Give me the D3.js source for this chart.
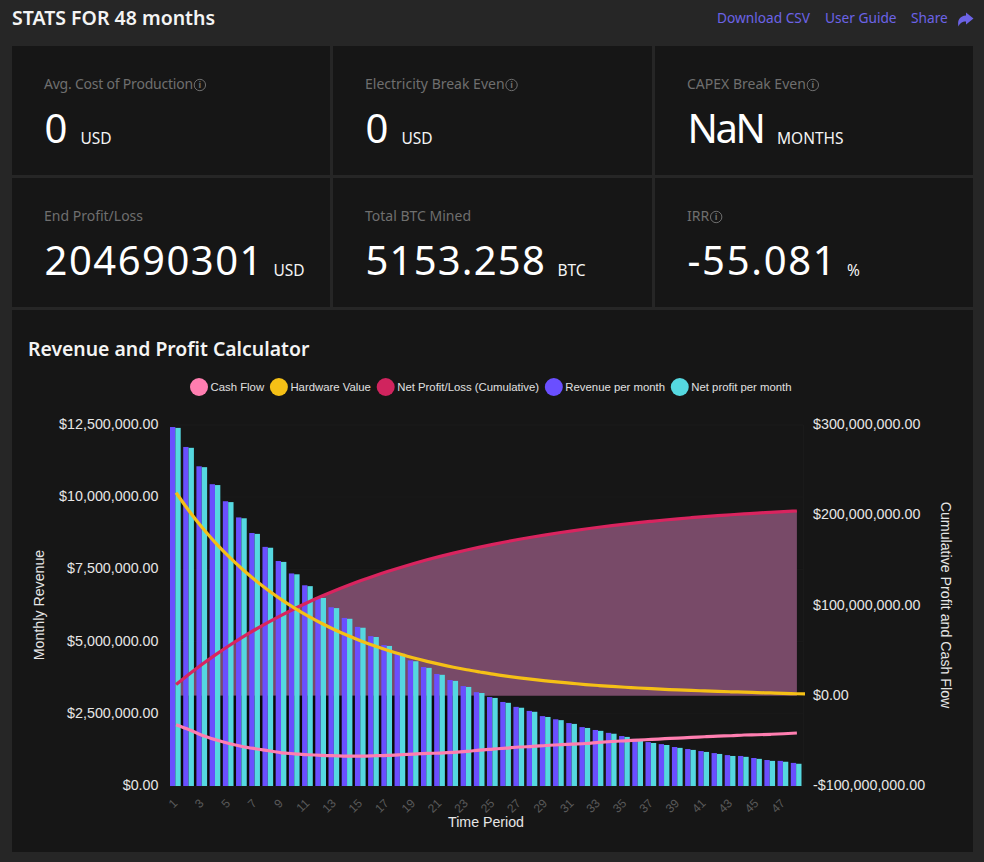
<!DOCTYPE html>
<html>
<head>
<meta charset="utf-8">
<script src="https://cdnjs.cloudflare.com/ajax/libs/d3/7.8.5/d3.min.js"></script>
<style>
  html, body { margin: 0; padding: 0; background: #262626; }
  svg { display: block; }
  text { font-family: "Noto Sans", sans-serif; }
  .chart-text text, text.chart-text { font-family: "Liberation Sans", Arial, sans-serif; }
  .domain, .tick line { display: none; }
</style>
</head>
<body>
<div id="page"></div>
<script>
// Stat cards
var cardLabels = ["Avg. Cost of Production", "Electricity Break Even", "CAPEX Break Even", "End Profit/Loss", "Total BTC Mined", "IRR"];
var cardValues = ["0", "0", "NaN", "204690301", "5153.258", "-55.081"];
var cardUnits = ["USD", "USD", "MONTHS", "USD", "BTC", "%"];
var cardInfo = [true, true, true, false, false, true];

var headerLinks = ["Download CSV", "User Guide", "Share"];

// Chart data. Dollars in millions.
var months = d3.range(1, 49).map(String);
var revenue = [12.43, 11.74, 11.07, 10.45, 9.86, 9.30, 8.76, 8.28, 7.79, 7.36, 6.95, 6.54, 6.19, 5.82, 5.51, 5.19,
  4.88, 4.61, 4.35, 4.12, 3.88, 3.67, 3.46, 3.25, 3.08, 2.91, 2.74, 2.60, 2.42, 2.31, 2.18, 2.04,
  1.94, 1.84, 1.73, 1.63, 1.52, 1.45, 1.35, 1.28, 1.21, 1.14, 1.07, 1.04, 0.97, 0.90, 0.87, 0.80];
var netProfit = [12.40, 11.71, 11.04, 10.42, 9.83, 9.27, 8.73, 8.25, 7.76, 7.33, 6.92, 6.51, 6.16, 5.79, 5.48, 5.16,
  4.85, 4.58, 4.32, 4.09, 3.85, 3.64, 3.43, 3.22, 3.05, 2.88, 2.71, 2.57, 2.39, 2.28, 2.15, 2.01,
  1.91, 1.81, 1.70, 1.60, 1.49, 1.42, 1.32, 1.25, 1.18, 1.11, 1.04, 1.01, 0.94, 0.87, 0.84, 0.77];
var cumulative = [12.40, 24.11, 35.15, 45.57, 55.40, 64.67, 73.40, 81.65, 89.41, 96.74, 103.66, 110.17, 116.33, 122.12, 127.60, 132.76,
  137.61, 142.19, 146.51, 150.60, 154.45, 158.09, 161.52, 164.74, 167.79, 170.67, 173.38, 175.95, 178.34, 180.62, 182.77, 184.78,
  186.69, 188.50, 190.20, 191.80, 193.29, 194.71, 196.03, 197.28, 198.46, 199.57, 200.55, 201.50, 202.40, 203.20, 204.00, 204.69];
// one value longer than the months, the line runs off the last band
var hardware = [225.0, 204.4, 185.8, 169.2, 154.2, 140.5, 128.0, 116.6, 106.2, 96.8, 88.2, 80.3, 73.2, 66.7, 60.7, 55.3,
  50.4, 45.9, 41.8, 38.1, 34.7, 31.6, 28.8, 26.3, 23.9, 21.8, 19.9, 18.1, 16.5, 15.0, 13.7, 12.4,
  11.3, 10.3, 9.4, 8.6, 7.8, 7.1, 6.5, 5.9, 5.4, 4.9, 4.4, 4.0, 3.5, 3.1, 2.7, 2.2, 1.9];
var cashFlow = [-32.1, -37.7, -44.0, -48.8, -52.9, -56.2, -58.7, -60.9, -63.2, -64.3, -65.4, -66.1, -66.5, -66.8, -66.8, -66.5,
  -66.1, -65.4, -64.6, -63.9, -63.5, -62.8, -61.7, -60.2, -59.1, -58.0, -56.8, -56.2, -55.1, -54.3, -53.5, -52.9,
  -51.7, -50.7, -49.9, -49.1, -48.4, -47.6, -46.9, -46.2, -45.4, -44.7, -44.3, -43.5, -43.2, -42.7, -42.1, -41.3];

var leftTicks = [0, 2.5, 5, 7.5, 10, 12.5];
var rightTicks = [-100, 0, 100, 200, 300];
var legendNames = ["Cash Flow", "Hardware Value", "Net Profit/Loss (Cumulative)", "Revenue per month", "Net profit per month"];
var legendColors = ["#ff7eb0", "#f5c016", "#d0245e", "#6a4fff", "#55d8e0"];

var cardBg = "#161616", mutedText = "#6f6f6f", linkColor = "#6c63e6";

var svg = d3.select("#page").append("svg").attr("width", 984).attr("height", 862);

// Header
svg.append("text").text("STATS FOR 48 months")
  .attr("x", 12).attr("y", 25)
  .style("font-size", "19.5px").style("font-weight", 600).style("fill", "#f4f4f4");
var linkX = [717, 825, 911];
svg.selectAll(".link").data(headerLinks).enter().append("text")
  .attr("class", "link").text(function (d) { return d; })
  .attr("x", function (d, i) { return linkX[i]; }).attr("y", 23)
  .style("font-size", "13.7px").style("fill", linkColor);
svg.append("path").attr("d", "M973.5 18.5 L966 12.5 V15.5 C960 16 957 20 958.5 26.5 C960 23 962 21.5 966 21.5 V24.5 Z")
  .style("fill", linkColor);

// Cards
var cardX = [12, 333, 655], cardW = [318, 319, 318], cardY = [46, 178], cardH = 129;
// the fallback font runs wider or narrower than the original on some strings
var labelSpacing = [-0.22, 0, 0, 0, 0, 0];
var valueSpacing = [1, 1, -2.4, 1.5, 1.2, 1.7];
var unitGap = [12.5, 12.5, 14, 10, 12, 10];

var cards = svg.selectAll(".card").data(cardLabels).enter().append("g")
  .attr("class", "card")
  .attr("transform", function (d, i) { return "translate(" + cardX[i % 3] + "," + cardY[Math.floor(i / 3)] + ")"; });
cards.append("rect")
  .attr("width", function (d, i) { return cardW[i % 3]; }).attr("height", cardH)
  .style("fill", cardBg);
var labelText = cards.append("text").text(function (d) { return d; })
  .attr("x", 32).attr("y", 43)
  .style("font-size", "14px").style("fill", mutedText)
  .style("letter-spacing", function (d, i) { return labelSpacing[i] + "px"; });
var valueText = cards.append("text").text(function (d, i) { return cardValues[i]; })
  .attr("x", 32.5).attr("y", 97)
  .style("font-size", "40px").style("fill", "#fff")
  .style("letter-spacing", function (d, i) { return valueSpacing[i] + "px"; });
cards.append("text").text(function (d, i) { return cardUnits[i]; })
  .attr("x", function (d, i) { return 32 + valueText.nodes()[i].getComputedTextLength() + unitGap[i]; })
  .attr("y", 98)
  .style("font-size", "15.5px").style("fill", "#f4f4f4");
cards.each(function (d, i) {
  if (!cardInfo[i]) return;
  var ix = 32 + labelText.nodes()[i].getComputedTextLength() + 7;
  var g = d3.select(this).append("g").attr("transform", "translate(" + ix + ",39)");
  g.append("circle").attr("r", 5.7).style("fill", "none").style("stroke", mutedText);
  g.append("text").text("i").attr("text-anchor", "middle").attr("y", 3)
    .style("font-size", "9px").style("font-weight", 700).style("fill", mutedText);
});

// Chart panel
svg.append("rect").attr("x", 12).attr("y", 310).attr("width", 961).attr("height", 542).style("fill", cardBg);
svg.append("text").text("Revenue and Profit Calculator")
  .attr("x", 28).attr("y", 356)
  .style("font-size", "19.4px").style("font-weight", 600).style("fill", "#f4f4f4");

var plot = { left: 169.5, right: 803.5, top: 425, bottom: 786 };

var x0 = d3.scaleBand().domain(months).range([plot.left, plot.right]);
var x1 = d3.scaleBand().domain(["revenue", "net"]).range([0.5, 11.2]);
var yLeft = d3.scaleLinear().domain([0, 12.5]).range([plot.bottom, plot.top]);
var yRight = d3.scaleLinear().domain([-100, 300]).range([plot.bottom, plot.top]);
var lineX = function (d, i) { return x0(months[0]) + x0.bandwidth() * (i + 0.5); };

// Legend, laid out from the text widths
var legend = svg.append("g").attr("class", "chart-text").attr("transform", "translate(190,387)");
var legendX = 0;
legendNames.forEach(function (name, i) {
  var g = legend.append("g").attr("transform", "translate(" + legendX + ",0)");
  g.append("circle").attr("cx", 9).attr("r", 9).style("fill", legendColors[i]);
  var t = g.append("text").text(name).attr("x", 20.5).attr("y", 4)
    .style("font-size", "11.35px").style("fill", "#e0e0e0");
  legendX += 20.5 + t.node().getComputedTextLength() + 5.8;
});

// Faint grid
var grid = svg.append("g").style("stroke", "#1a1a1a");
grid.selectAll("line").data(leftTicks).enter().append("line")
  .attr("x1", plot.left).attr("x2", plot.right)
  .attr("y1", function (d) { return yLeft(d); }).attr("y2", function (d) { return yLeft(d); });
grid.append("line").attr("x1", plot.right).attr("x2", plot.right).attr("y1", plot.top).attr("y2", plot.bottom);

// Cumulative profit area
var area = d3.area().x(lineX).y0(yRight(0)).y1(function (d) { return yRight(d); }).curve(d3.curveMonotoneX);
svg.append("path").datum(cumulative).attr("d", area).style("fill", "#784a68");

// the gaps between the tall bars go darker under the zero line
svg.append("rect")
  .attr("x", x0("1") + x0.bandwidth() / 2).attr("y", yRight(0))
  .attr("width", x0("24") - x0("1"))
  .attr("height", plot.bottom - yRight(0))
  .style("fill", "#0a0a0a");

// Bars
var groups = svg.selectAll(".month").data(months).enter().append("g")
  .attr("class", "month")
  .attr("transform", function (d) { return "translate(" + x0(d) + ",0)"; });
groups.append("rect")
  .attr("x", x1("revenue")).attr("width", x1.bandwidth())
  .attr("y", function (d, i) { return yLeft(revenue[i]); })
  .attr("height", function (d, i) { return plot.bottom - yLeft(revenue[i]); })
  .style("fill", "#6a4fff");
groups.append("rect")
  .attr("x", x1("net")).attr("width", x1.bandwidth())
  .attr("y", function (d, i) { return yLeft(netProfit[i]); })
  .attr("height", function (d, i) { return plot.bottom - yLeft(netProfit[i]); })
  .style("fill", "#55d8e0");

// Lines, on the right axis
svg.append("clipPath").attr("id", "plot-clip").append("rect")
  .attr("x", plot.left).attr("y", plot.top)
  .attr("width", plot.right - plot.left + 1.5).attr("height", plot.bottom - plot.top);
var line = d3.line().x(lineX).y(function (d) { return yRight(d); }).curve(d3.curveMonotoneX);
var lines = svg.append("g").attr("clip-path", "url(#plot-clip)");
[[cashFlow, "#ff7eb0"], [cumulative, "#d9245f"], [hardware, "#f5c016"]].forEach(function (s) {
  lines.append("path").datum(s[0]).attr("d", line)
    .style("fill", "none").style("stroke", s[1]).style("stroke-width", 3.2);
});

// Axes
var yFormat = d3.format("$,.2f");
var moneyLabel = function (d) { return yFormat(d * 1e6).replace("\u2212", "-"); };
var axisLeft = svg.append("g").attr("class", "chart-text")
  .attr("transform", "translate(" + plot.left + ",-1)")
  .call(d3.axisLeft(yLeft).tickValues(leftTicks).tickSize(0).tickPadding(11).tickFormat(moneyLabel));
var axisRight = svg.append("g").attr("class", "chart-text")
  .attr("transform", "translate(" + plot.right + ",-1)")
  .call(d3.axisRight(yRight).tickValues(rightTicks).tickSize(0).tickPadding(9.5).tickFormat(moneyLabel));
[axisLeft, axisRight].forEach(function (a) {
  a.selectAll("text").style("font-size", "14.3px").style("fill", "#e6e6e6");
});

var axisBottom = svg.append("g").attr("class", "chart-text")
  .attr("transform", "translate(0," + plot.bottom + ")")
  .call(d3.axisBottom(x0).tickValues(months.filter(function (d, i) { return i % 2 === 0; })).tickSize(0).tickPadding(0));
axisBottom.selectAll("text")
  .attr("dy", null).attr("y", 0)
  .attr("text-anchor", "end")
  .attr("transform", function () { return "translate(2,18) rotate(-45)"; })
  .style("font-size", "12px").style("fill", "#5a5a5a");

// Axis titles
svg.append("text").attr("class", "chart-text").text("Monthly Revenue")
  .attr("text-anchor", "middle")
  .attr("transform", "translate(44,605) rotate(-90)")
  .style("font-size", "14.2px").style("fill", "#e6e6e6");
svg.append("text").attr("class", "chart-text").text("Cumulative Profit and Cash Flow")
  .attr("text-anchor", "middle")
  .attr("transform", "translate(941,605) rotate(90)")
  .style("font-size", "14.2px").style("fill", "#e6e6e6");
svg.append("text").attr("class", "chart-text").text("Time Period")
  .attr("text-anchor", "middle")
  .attr("x", 486).attr("y", 827)
  .style("font-size", "14.2px").style("fill", "#e6e6e6");
</script>
</body>
</html>
